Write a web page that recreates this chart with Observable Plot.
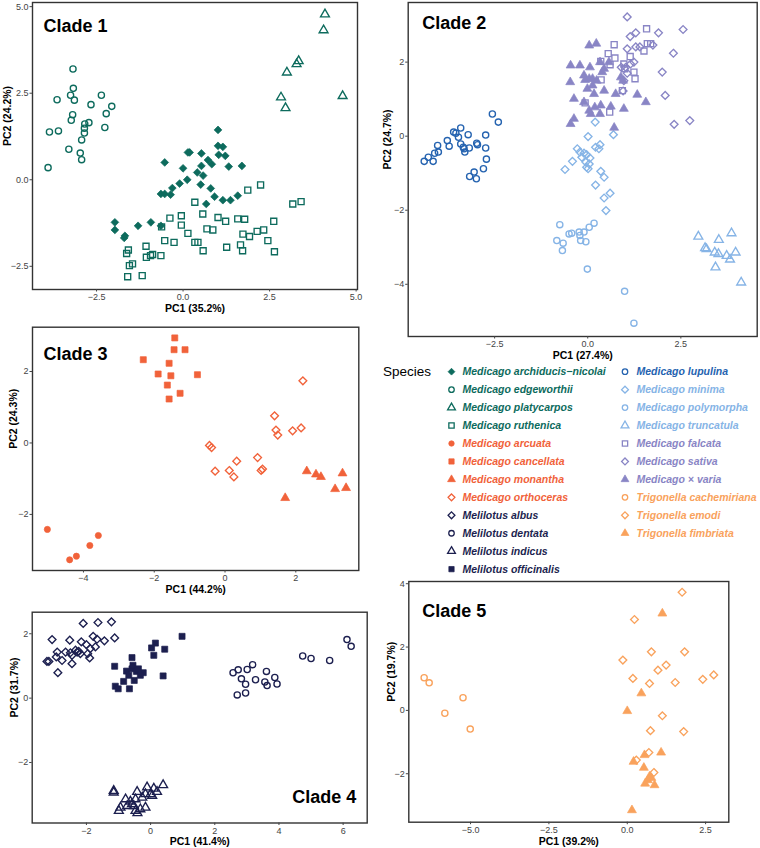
<!DOCTYPE html>
<html><head><meta charset="utf-8">
<script src="https://cdn.jsdelivr.net/npm/d3@7"></script>
<script src="https://cdn.jsdelivr.net/npm/@observablehq/plot@0.6"></script>
<style>
body{margin:0;background:#fff;}
#wrap{position:relative;width:760px;height:848px;overflow:hidden;font-family:"Liberation Sans",Arial,sans-serif;}
</style></head><body><div id="wrap"></div>
<script>
// ---- Clade 1 ----
const archiducisNicolai = [[1.01,1.44],[1.01,0.98],[1.15,0.95],[0.14,0.79],[0.19,0.79],[0.53,0.76],[1.03,0.72],[1.22,0.69],[-0.53,0.50],[0.72,0.57],[0.83,0.45],[0.53,0.40],[0.00,0.33],[1.32,0.38],[1.70,0.40],[0.41,0.21],[0.58,0.12],[0.12,0.00],[-0.10,-0.11],[0.51,-0.14],[0.80,-0.25],[-0.31,-0.24],[-0.64,-0.41],[-0.53,-0.41],[-0.36,-0.43],[0.91,-0.49],[0.67,-0.70],[1.15,-0.59],[1.37,-0.59],[1.58,-0.46],[-1.97,-1.23],[-1.97,-1.45],[-1.30,-1.33],[-0.93,-1.23],[-0.64,-1.33],[-1.68,-1.62],[-1.70,-1.68]];
const edgeworthii = [[-3.18,3.20],[-3.17,2.64],[-3.25,2.44],[-3.14,2.30],[-3.64,2.31],[-2.36,2.44],[-2.66,2.17],[-2.06,2.12],[-2.22,1.91],[-3.19,1.88],[-3.23,1.72],[-2.84,1.61],[-2.72,1.65],[-2.85,1.49],[-2.85,1.35],[-2.93,1.15],[-3.86,1.38],[-3.60,1.41],[-2.26,1.51],[-3.30,0.88],[-2.97,0.77],[-2.93,0.58],[-3.90,0.35]];
const platycarpos = [[4.10,4.78],[4.06,4.32],[3.34,3.43],[3.28,3.34],[3.00,3.10],[2.83,2.38],[2.96,2.07],[4.61,2.42]];
const ruthenica = [[2.24,-0.15],[1.87,-0.30],[3.17,-0.70],[3.41,-0.63],[0.34,-0.65],[0.57,-0.99],[-0.05,-1.04],[-0.38,-1.11],[1.01,-1.09],[1.23,-1.20],[1.58,-1.13],[1.78,-1.14],[2.62,-1.20],[-0.05,-1.31],[-0.62,-1.36],[0.69,-1.42],[0.86,-1.45],[0.14,-1.55],[1.73,-1.57],[2.14,-1.49],[2.33,-1.45],[1.92,-1.64],[0.34,-1.81],[0.43,-1.81],[-0.53,-1.76],[-0.26,-1.81],[2.45,-1.76],[0.58,-2.05],[1.26,-1.95],[1.66,-1.88],[1.72,-2.05],[2.64,-2.08],[-1.58,-2.03],[-1.63,-2.13],[-1.07,-1.92],[-1.06,-2.24],[-0.94,-2.19],[-0.88,-2.16],[-0.64,-2.19],[-1.55,-2.48],[-1.46,-2.43],[-1.60,-2.80],[-1.18,-2.77]];
// ---- Clade 2 ----
const lupulina = [[-4.39,-0.68],[-4.28,-0.57],[-4.15,-0.68],[-4.11,-0.46],[-4.03,-0.25],[-4.01,-0.43],[-3.77,-0.12],[-3.72,-0.27],[-3.60,0.11],[-3.54,0.08],[-3.41,0.22],[-3.47,-0.03],[-3.41,-0.21],[-3.34,-0.30],[-3.30,-0.43],[-3.21,0.04],[-3.18,-0.32],[-3.32,-0.34],[-2.98,-0.19],[-2.96,-0.23],[-2.74,0.03],[-2.74,-0.32],[-2.72,-0.62],[-2.56,0.60],[-2.40,0.38],[-3.17,-1.09],[-3.05,-0.97],[-2.99,-1.15],[-2.80,-0.88]];
const minima = [[0.20,0.38],[0.69,0.04],[0.01,-0.01],[-0.28,-0.34],[-0.21,-0.43],[-0.10,-0.46],[-0.03,-0.50],[-0.16,-0.57],[-0.05,-0.70],[0.04,-0.75],[-0.03,-0.84],[0.01,-0.88],[-0.41,-0.68],[-0.61,-0.90],[0.33,-0.23],[0.30,-0.34],[0.21,-0.30],[0.35,-0.95],[0.44,-1.11],[0.21,-1.32],[0.60,-1.54],[0.44,-1.67],[0.49,-2.01],[0.06,-0.59]];
const polymorpha = [[-0.75,-2.39],[-0.83,-2.82],[-0.66,-2.89],[-0.68,-3.09],[-0.50,-2.64],[-0.43,-2.62],[-0.23,-2.59],[-0.21,-2.68],[-0.19,-2.82],[-0.05,-2.85],[-0.10,-2.59],[0.04,-2.46],[0.17,-2.35],[-0.01,-3.59],[0.99,-4.19],[1.24,-5.05]];
const truncatula = [[2.97,-2.71],[3.15,-3.02],[3.19,-3.05],[3.52,-2.80],[3.86,-2.62],[3.41,-3.14],[3.51,-3.18],[3.73,-3.23],[3.97,-3.14],[3.82,-3.33],[3.43,-3.54],[4.12,-3.95]];
const falcata = [[1.58,2.90],[0.71,2.47],[0.55,2.23],[0.73,2.11],[0.35,2.02],[0.60,1.93],[1.14,2.15],[1.51,2.30],[1.60,2.50],[1.69,2.50],[0.99,1.82],[1.24,1.73],[1.27,1.55],[0.36,1.52],[0.59,0.65],[-0.07,0.90],[0.93,1.23],[0.97,1.95]];
const sativa = [[1.06,3.22],[1.29,2.79],[1.14,2.69],[1.90,2.79],[2.56,2.88],[1.06,2.36],[1.29,2.41],[1.40,2.41],[1.75,2.46],[2.30,2.24],[1.24,2.00],[1.15,1.95],[1.02,1.86],[0.90,1.86],[1.06,1.70],[2.00,1.73],[2.08,1.10],[2.32,0.32],[2.74,0.42],[0.95,1.22],[0.97,1.50]];
const varia = [[0.04,2.45],[0.23,2.50],[-0.46,1.91],[-0.21,1.91],[0.06,1.86],[0.33,2.00],[0.57,2.00],[-0.10,1.64],[0.04,1.55],[0.13,1.55],[0.24,1.50],[0.39,1.73],[0.44,1.82],[-0.47,1.46],[-0.01,1.28],[0.17,1.14],[0.44,1.23],[0.75,1.14],[0.89,1.59],[0.95,1.50],[-0.37,1.01],[-0.10,0.92],[-0.37,0.47],[-0.46,0.33],[0.04,0.69],[0.19,0.78],[0.35,0.83],[0.62,0.80],[0.08,0.60],[0.33,0.60],[0.97,0.74],[1.33,1.12],[1.56,0.92],[0.71,0.23],[0.13,1.37],[-0.07,1.52]];
// ---- Clade 3 ----
const arcuata = [[-5.02,-2.42],[-3.58,-2.59],[-3.82,-2.87],[-4.20,-3.17],[-4.39,-3.27]];
const cancellata = [[-1.42,2.94],[-1.44,2.61],[-1.13,2.61],[-2.31,2.33],[-1.58,2.23],[-1.89,1.93],[-1.53,1.88],[-0.78,1.91],[-1.63,1.62],[-1.27,1.39],[-1.58,1.23]];
const monantha = [[2.31,-0.79],[2.57,-0.88],[2.71,-0.95],[3.32,-0.85],[3.11,-1.29],[3.42,-1.26],[1.70,-1.54]];
const orthoceras = [[2.20,1.74],[1.40,0.76],[1.44,0.36],[1.49,0.22],[1.91,0.34],[2.15,0.42],[-0.44,-0.07],[-0.38,-0.13],[0.92,-0.41],[0.33,-0.51],[-0.28,-0.79],[0.12,-0.77],[0.25,-0.95],[1.02,-0.77],[1.06,-0.73]];
// ---- Clade 4 ----
const albus = [[-2.10,2.32],[-1.64,2.35],[-1.22,2.37],[-3.07,1.82],[-2.52,1.80],[-2.16,1.75],[-1.79,1.92],[-1.67,1.83],[-1.44,1.78],[-1.12,1.87],[-2.91,1.43],[-2.65,1.43],[-2.34,1.49],[-2.29,1.43],[-2.19,1.38],[-2.00,1.66],[-1.88,1.54],[-1.72,1.59],[-3.23,1.14],[-3.17,1.14],[-2.94,1.28],[-2.76,1.17],[-2.45,1.33],[-2.24,1.45],[-1.90,1.25],[-2.45,1.07],[-2.89,0.79],[-2.50,1.41],[-1.96,1.38]];
const dentata = [[2.57,0.79],[2.73,0.88],[2.83,0.60],[3.01,0.89],[3.18,1.04],[2.96,0.43],[3.27,0.57],[3.61,0.83],[3.56,0.50],[3.87,0.64],[3.94,0.44],[3.63,0.39],[2.70,0.10],[2.96,0.16],[4.74,1.31],[5.00,1.23],[5.58,1.17],[6.12,1.82],[6.25,1.61]];
const indicus = [[-1.15,-2.88],[-1.15,-2.93],[-0.11,-2.77],[0.10,-2.81],[0.39,-2.70],[0.20,-2.91],[-0.42,-2.91],[-0.78,-3.14],[-0.63,-3.21],[-0.58,-3.29],[-0.47,-3.14],[-0.26,-3.09],[-0.16,-2.98],[0.00,-2.98],[0.05,-3.03],[-0.94,-3.40],[-0.73,-3.35],[-0.52,-3.35],[-0.47,-3.50],[-0.32,-3.45],[-0.16,-3.40],[-0.99,-3.50],[-0.41,-3.57]];
const officinalis = [[0.98,1.92],[0.15,1.71],[0.03,1.56],[0.44,1.52],[0.10,1.33],[-0.58,1.26],[-1.12,0.99],[-0.75,0.84],[-0.58,0.91],[-0.44,0.83],[-0.23,0.79],[-0.32,0.71],[-0.68,0.71],[-0.84,0.52],[-0.51,0.55],[-1.10,0.37],[-1.01,0.29],[-0.66,0.29],[0.39,0.69],[-0.55,1.02],[-0.38,0.91]];
// ---- Clade 5 ----
const cachemiriana = [[-6.48,1.03],[-6.32,0.87],[-5.82,-0.09],[-5.24,0.40],[-5.01,-0.59]];
const emodi = [[1.75,3.73],[0.23,2.87],[0.77,1.85],[1.83,1.85],[-0.14,1.59],[1.24,1.43],[0.98,1.27],[0.18,1.01],[0.71,0.85],[1.53,0.88],[2.41,0.98],[2.76,1.12],[1.12,-0.17],[0.74,-0.64],[1.80,-0.67],[0.69,-1.33],[0.29,-1.57],[0.85,-1.96]];
const fimbriata = [[1.12,3.06],[0.45,0.54],[0.00,-0.02],[1.08,-1.33],[0.20,-1.62],[0.55,-1.41],[0.53,-1.81],[0.71,-2.09],[0.77,-2.13],[0.57,-2.31],[0.87,-2.36],[0.66,-2.20],[0.15,-3.15]];

// ---- tick labels / axis titles ----
const clade1Ticks = [-2.5, 0, 2.5, 5];
const clade2XTicks = [-2.5, 0, 2.5], clade2YTicks = [2, 0, -2, -4];
const clade3XTicks = [-4, -2, 0, 2], clade3YTicks = [2, 0, -2];
const clade4XTicks = [-2, 0, 2, 4, 6], clade4YTicks = [2, 0, -2];
const clade5XTicks = [-5, -2.5, 0, 2.5], clade5YTicks = [4, 2, 0, -2];
const xTitles = ["PC1 (35.2%)", "PC1 (27.4%)", "PC1 (44.2%)", "PC1 (41.4%)", "PC1 (39.2%)"];
const yTitles = ["PC2 (24.2%)", "PC2 (24.7%)", "PC2 (24.3%)", "PC2 (31.7%)", "PC2 (19.7%)"];

const TEAL="#0d6b5d", RED="#f1623a", NAVY="#1c1f4f", BLUE="#2563b0", LBLUE="#86b4e6", LAV="#8985c5", LORANGE="#f9a25c";

const species = [
 {name:"Medicago archiducis−nicolai", clade:1, color:TEAL, symbol:"diamond2", filled:true, data:archiducisNicolai},
 {name:"Medicago edgeworthii", clade:1, color:TEAL, symbol:"circle", filled:false, data:edgeworthii},
 {name:"Medicago platycarpos", clade:1, color:TEAL, symbol:"triangle", filled:false, data:platycarpos},
 {name:"Medicago ruthenica", clade:1, color:TEAL, symbol:"square", filled:false, data:ruthenica},
 {name:"Medicago arcuata", clade:3, color:RED, symbol:"circle", filled:true, data:arcuata},
 {name:"Medicago cancellata", clade:3, color:RED, symbol:"square", filled:true, data:cancellata},
 {name:"Medicago monantha", clade:3, color:RED, symbol:"triangle", filled:true, data:monantha},
 {name:"Medicago orthoceras", clade:3, color:RED, symbol:"diamond2", filled:false, data:orthoceras},
 {name:"Melilotus albus", clade:4, color:NAVY, symbol:"diamond2", filled:false, data:albus},
 {name:"Melilotus dentata", clade:4, color:NAVY, symbol:"circle", filled:false, data:dentata},
 {name:"Melilotus indicus", clade:4, color:NAVY, symbol:"triangle", filled:false, data:indicus},
 {name:"Melilotus officinalis", clade:4, color:NAVY, symbol:"square", filled:true, data:officinalis},
 {name:"Medicago lupulina", clade:2, color:BLUE, symbol:"circle", filled:false, data:lupulina},
 {name:"Medicago minima", clade:2, color:LBLUE, symbol:"diamond2", filled:false, data:minima},
 {name:"Medicago polymorpha", clade:2, color:LBLUE, symbol:"circle", filled:false, data:polymorpha},
 {name:"Medicago truncatula", clade:2, color:LBLUE, symbol:"triangle", filled:false, data:truncatula},
 {name:"Medicago falcata", clade:2, color:LAV, symbol:"square", filled:false, data:falcata},
 {name:"Medicago sativa", clade:2, color:LAV, symbol:"diamond2", filled:false, data:sativa},
 {name:"Medicago × varia", clade:2, color:LAV, symbol:"triangle", filled:true, data:varia},
 {name:"Trigonella cachemiriana", clade:5, color:LORANGE, symbol:"circle", filled:false, data:cachemiriana},
 {name:"Trigonella emodi", clade:5, color:LORANGE, symbol:"diamond2", filled:false, data:emodi},
 {name:"Trigonella fimbriata", clade:5, color:LORANGE, symbol:"triangle", filled:true, data:fimbriata}
];
const symR = {circle:3.1, diamond2:3.5, triangle:3.3, square:3.4};

const wrap = document.getElementById("wrap");
const FONT = "Liberation Sans, Arial, Helvetica, sans-serif";

function panel(cfg) {
  const marks = [Plot.frame({stroke:"#333", strokeWidth:1.4})];
  for (const s of species.filter(d => d.clade === cfg.clade)) {
    marks.push(Plot.dot(s.data, {
      x: d => d[0], y: d => d[1], symbol: s.symbol, r: symR[s.symbol],
      fill: s.filled ? s.color : "none", stroke: s.color,
      strokeWidth: s.filled ? 0.7 : 1.35
    }));
  }
  marks.push(
    Plot.axisX({ticks: cfg.xticks, tickFormat: d3.format(cfg.xfmt), tickSize: 2.5, tickPadding: 2, fontSize: 9, label: null}),
    Plot.axisY({ticks: cfg.yticks, tickFormat: d3.format(cfg.yfmt), tickSize: 2.5, tickPadding: 1.5, fontSize: 9, label: null}),
    Plot.text([cfg.xtitle], {text: d => d, frameAnchor: "bottom", dy: 19, lineAnchor: "middle", fontSize: 10.5, fontWeight: "bold", fill: "#000"}),
    Plot.text([cfg.ytitle], {text: d => d, frameAnchor: "left", dx: cfg.ydx, rotate: -90, lineAnchor: "middle", fontSize: 10.5, fontWeight: "bold", fill: "#000"}),
    Plot.text([cfg.title], {text: d => d, frameAnchor: cfg.tAnchor, textAnchor: cfg.tText, lineAnchor: "bottom", dx: cfg.tdx, dy: cfg.tdy, fontSize: 18, fontWeight: "bold", fill: "#000"})
  );
  const svg = Plot.plot({
    width: cfg.w, height: cfg.h,
    marginLeft: cfg.ml, marginRight: cfg.mr, marginTop: cfg.mt, marginBottom: cfg.mb,
    x: {domain: cfg.xdom, axis: null},
    y: {domain: cfg.ydom, axis: null},
    style: {background: "transparent", color: "#444", fontFamily: FONT, overflow: "visible"},
    marks
  });
  svg.style.position = "absolute";
  svg.style.left = cfg.left + "px";
  svg.style.top = cfg.top + "px";
  wrap.appendChild(svg);
}

panel({clade:1, title:"Clade 1", left:0, top:0, w:370, h:312, ml:32, mr:13, mt:2, mb:23,
  xdom:[-4.35,5.04], ydom:[-3.17,5.12], xticks:clade1Ticks, yticks:clade1Ticks, xfmt:".1f", yfmt:".1f",
  xtitle:xTitles[0], ytitle:yTitles[0], ydx:-24.5, tAnchor:"top-left", tText:"start", tdx:11, tdy:29.7});
panel({clade:2, title:"Clade 2", left:370, top:0, w:390, h:362, ml:37.7, mr:3.3, mt:2, mb:26,
  xdom:[-4.82,4.55], ydom:[-5.41,3.61], xticks:clade2XTicks, yticks:clade2YTicks, xfmt:".1f", yfmt:"d",
  xtitle:xTitles[1], ytitle:yTitles[1], ydx:-20.7, tAnchor:"top-left", tText:"start", tdx:14, tdy:26.3});
panel({clade:3, title:"Clade 3", left:0, top:310, w:370, h:290, ml:32, mr:11.7, mt:16.7, mb:30,
  xdom:[-5.44,3.78], ydom:[-3.57,3.24], xticks:clade3XTicks, yticks:clade3YTicks, xfmt:"d", yfmt:"d",
  xtitle:xTitles[2], ytitle:yTitles[2], ydx:-18.4, tAnchor:"top-left", tText:"start", tdx:11, tdy:32.6});
panel({clade:4, title:"Clade 4", left:0, top:600, w:370, h:248, ml:31.7, mr:3.3, mt:11.7, mb:25.5,
  xdom:[-3.69,6.75], ydom:[-3.88,2.67], xticks:clade4XTicks, yticks:clade4YTicks, xfmt:"d", yfmt:"d",
  xtitle:xTitles[3], ytitle:yTitles[3], ydx:-17.8, tAnchor:"bottom-right", tText:"end", tdx:-11, tdy:-19.8});
panel({clade:5, title:"Clade 5", left:370, top:575, w:390, h:273, ml:38.3, mr:31.7, mt:6, mb:26.3,
  xdom:[-6.97,3.24], ydom:[-3.53,4.07], xticks:clade5XTicks, yticks:clade5YTicks, xfmt:".1f", yfmt:"d",
  xtitle:xTitles[4], ytitle:yTitles[4], ydx:-17.6, tAnchor:"top-left", tText:"start", tdx:13.4, tdy:35.7});

// ---- Legend ----
const symTypes = {circle:d3.symbolCircle, diamond2:d3.symbolDiamond2, triangle:d3.symbolTriangle, square:d3.symbolSquare};
const leg = d3.create("svg").attr("width", 390).attr("height", 225)
  .style("position","absolute").style("left","370px").style("top","355px")
  .style("font-family", FONT);
leg.append("text").attr("x", 13).attr("y", 16.7).attr("dy","0.35em")
  .attr("font-size", 13.5).attr("fill", "#000").text("Species");
species.forEach((s, i) => {
  const col = i < 12 ? 0 : 1, row = i < 12 ? i : i - 12;
  const sx = col ? 255 : 81.5, tx = col ? 266.5 : 92.5, cy = 16.7 + row * 17.95;
  const r = symR[s.symbol] * 0.88;
  leg.append("path")
    .attr("transform", `translate(${sx},${cy})`)
    .attr("d", d3.symbol(symTypes[s.symbol], Math.PI * r * r)())
    .attr("fill", s.filled ? s.color : "none").attr("stroke", s.color)
    .attr("stroke-width", s.filled ? 0.7 : 1.3);
  leg.append("text").attr("x", tx).attr("y", cy).attr("dy", "0.36em")
    .attr("font-size", 10.5).attr("font-weight", "bold").attr("font-style", "italic")
    .attr("fill", s.color).text(s.name);
});
wrap.appendChild(leg.node());
</script></body></html>
